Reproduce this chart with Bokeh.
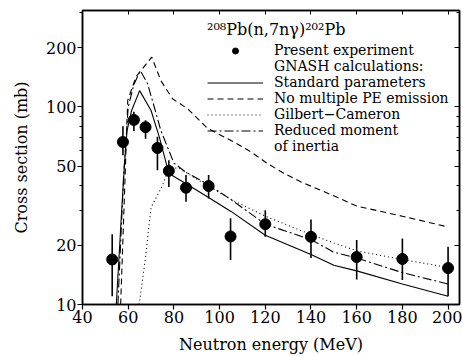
from bokeh.plotting import figure
from bokeh.models import (Range1d, FixedTicker, LinearAxis, LogAxis, Legend, LegendItem,
                          PrintfTickFormatter)
from bokeh.embed import file_html
from bokeh.resources import INLINE

FONT = "DejaVu Serif"

# Experimental data (Neutron energy in MeV, cross section in mb)
exp_energy = [53.0, 57.7, 62.5, 67.6, 72.8, 77.8, 85.3, 95.2, 104.8, 120.0, 140.0, 160.0, 180.0, 200.0]
exp_sigma = [16.9, 66.5, 86.0, 79.0, 62.0, 47.5, 39.0, 39.8, 22.1, 25.5, 22.0, 17.4, 17.0, 15.3]
exp_low = [11.0, 57.0, 75.5, 69.0, 47.8, 39.4, 33.1, 34.4, 16.8, 22.0, 17.2, 13.4, 13.3, 11.0]
exp_high = [22.7, 79.9, 94.5, 85.6, 70.7, 53.7, 45.2, 45.2, 27.3, 30.0, 26.9, 21.2, 21.6, 19.6]

# GNASH: standard parameters
std_energy = [54.8, 57.0, 58.5, 59.5, 61.5, 65.0, 70.0, 73.6, 77.8, 85.0, 95.0, 105.0, 120.0, 140.0, 150.0, 160.0, 180.0, 200.0]
std_sigma = [10.0, 28.0, 54.0, 76.0, 96.0, 121.0, 96.0, 70.6, 46.1, 41.1, 34.9, 29.6, 22.4, 17.9, 15.8, 14.8, 12.7, 11.0]

# GNASH: no multiple PE emission
nope_energy = [56.7, 58.9, 59.8, 63.4, 70.3, 74.3, 79.4, 86.0, 94.7, 100.5, 106.3, 113.6, 120.9, 128.2, 135.5, 150.0, 160.0, 180.0, 200.0]
nope_sigma = [10.0, 54.0, 108.0, 142.0, 179.0, 136.0, 110.0, 98.0, 78.0, 72.0, 66.5, 59.4, 51.8, 46.1, 41.8, 35.5, 31.5, 28.0, 24.7]

# GNASH: Gilbert-Cameron
gc_energy = [64.8, 67.5, 70.0, 75.0, 78.0, 82.5, 92.0, 105.0, 120.0, 140.0, 150.0, 160.0, 180.0, 200.0]
gc_sigma = [10.0, 17.0, 31.0, 40.0, 49.5, 48.8, 41.8, 34.0, 28.0, 22.6, 20.5, 18.7, 16.9, 15.4]

# GNASH: reduced moment of inertia
rmi_energy = [55.5, 58.0, 60.0, 62.5, 65.3, 68.5, 71.4, 74.3, 80.0, 85.0, 95.0, 105.0, 120.0, 140.0, 150.0, 160.0, 180.0, 200.0]
rmi_sigma = [10.0, 45.0, 100.0, 130.0, 153.0, 131.0, 100.0, 76.0, 52.0, 47.0, 40.5, 34.0, 25.5, 21.3, 18.4, 17.2, 14.5, 12.7]

x_ticks = [40, 60, 80, 100, 120, 140, 160, 180, 200]
y_ticks = [10, 20, 50, 100, 200]
y_minor = [30, 40, 60, 70, 80, 90, 300]

p = figure(width=462, height=356, x_range=Range1d(40, 205), y_range=Range1d(10, 308),
           y_axis_type="log", output_backend="svg", toolbar_location=None,
           min_border_left=82, min_border_right=3, min_border_top=10, min_border_bottom=51)
p.grid.visible = False
p.outline_line_color = "black"
p.outline_line_width = 1.5
p.background_fill_color = "white"
p.border_fill_color = "white"

for ax in (p.xaxis[0], p.yaxis[0]):
    ax.axis_line_width = 1.5
    ax.major_tick_line_width = 1.2
    ax.minor_tick_line_width = 1.0
    ax.major_tick_in = 0
    ax.major_tick_out = 5
    ax.minor_tick_in = 0
    ax.minor_tick_out = 3
    ax.major_label_text_font = FONT
    ax.major_label_text_font_size = "16px"
    ax.major_label_text_color = "black"
    ax.axis_label_text_font = FONT
    ax.axis_label_text_font_size = "16px"
    ax.axis_label_text_font_style = "normal"
    ax.axis_label_text_color = "black"

p.xaxis.ticker = FixedTicker(ticks=x_ticks)
p.xaxis.major_label_standoff = 1
p.xaxis.axis_label = "Neutron energy (MeV)"
p.xaxis.axis_label_standoff = 9
p.yaxis.ticker = FixedTicker(ticks=y_ticks, minor_ticks=y_minor)
p.yaxis.formatter = PrintfTickFormatter(format="%d")
p.yaxis.major_label_standoff = 1
p.yaxis.axis_label = "Cross section (mb)"
p.yaxis.axis_label_standoff = 12

top_axis = LinearAxis(ticker=FixedTicker(ticks=x_ticks), major_label_text_font_size="1px",
                      major_label_text_color=None, major_label_text_alpha=0,
                      major_tick_in=4, major_tick_out=0, minor_tick_in=0, minor_tick_out=0,
                      major_label_standoff=0, axis_line_width=1.5)
p.add_layout(top_axis, "above")
right_axis = LogAxis(ticker=FixedTicker(ticks=y_ticks, minor_ticks=y_minor),
                     major_label_text_font_size="1px", major_label_text_color=None,
                     major_label_text_alpha=0, major_tick_in=5, major_tick_out=0,
                     minor_tick_in=3, minor_tick_out=0, major_label_standoff=0, axis_line_width=1.5)
p.add_layout(right_axis, "right")

r_std = p.line(std_energy, std_sigma, line_color="black", line_width=1.1)
r_nope = p.line(nope_energy, nope_sigma, line_color="black", line_width=1.1, line_dash="6 4")
r_gc = p.line(gc_energy, gc_sigma, line_color="black", line_width=1.1, line_dash="1 3")
r_rmi = p.line(rmi_energy, rmi_sigma, line_color="black", line_width=1.1, line_dash="9 3 2 3")

p.segment(x0=exp_energy, y0=exp_low, x1=exp_energy, y1=exp_high, line_color="black", line_width=1.6)
r_exp = p.scatter(exp_energy, exp_sigma, size=11, color="black")

r_blank = p.line([], [], line_alpha=0)

legend = Legend(items=[
    LegendItem(label="Present experiment", renderers=[r_exp]),
    LegendItem(label="GNASH calculations:", renderers=[r_blank]),
    LegendItem(label="Standard parameters", renderers=[r_std]),
    LegendItem(label="No multiple PE emission", renderers=[r_nope]),
    LegendItem(label="Gilbert\u2212Cameron", renderers=[r_gc]),
    LegendItem(label="Reduced moment", renderers=[r_rmi]),
    LegendItem(label="of inertia", renderers=[r_blank]),
], location=(125, 150))
legend.title = "\u00b2\u2070\u2078Pb(n,7n\u03b3)\u00b2\u2070\u00b2Pb"
legend.title_text_font = FONT
legend.title_text_font_size = "16px"
legend.title_text_font_style = "normal"
legend.title_text_color = "black"
legend.title_standoff = 3
legend.label_text_font = FONT
legend.label_text_font_size = "14px"
legend.label_text_color = "black"
legend.label_height = 15
legend.glyph_height = 15
legend.glyph_width = 56
legend.label_standoff = 11
legend.spacing = 0
legend.padding = 0
legend.margin = 0
legend.border_line_alpha = 0
legend.background_fill_alpha = 0
p.add_layout(legend)

open("out.html", "w").write(file_html(p, INLINE))
